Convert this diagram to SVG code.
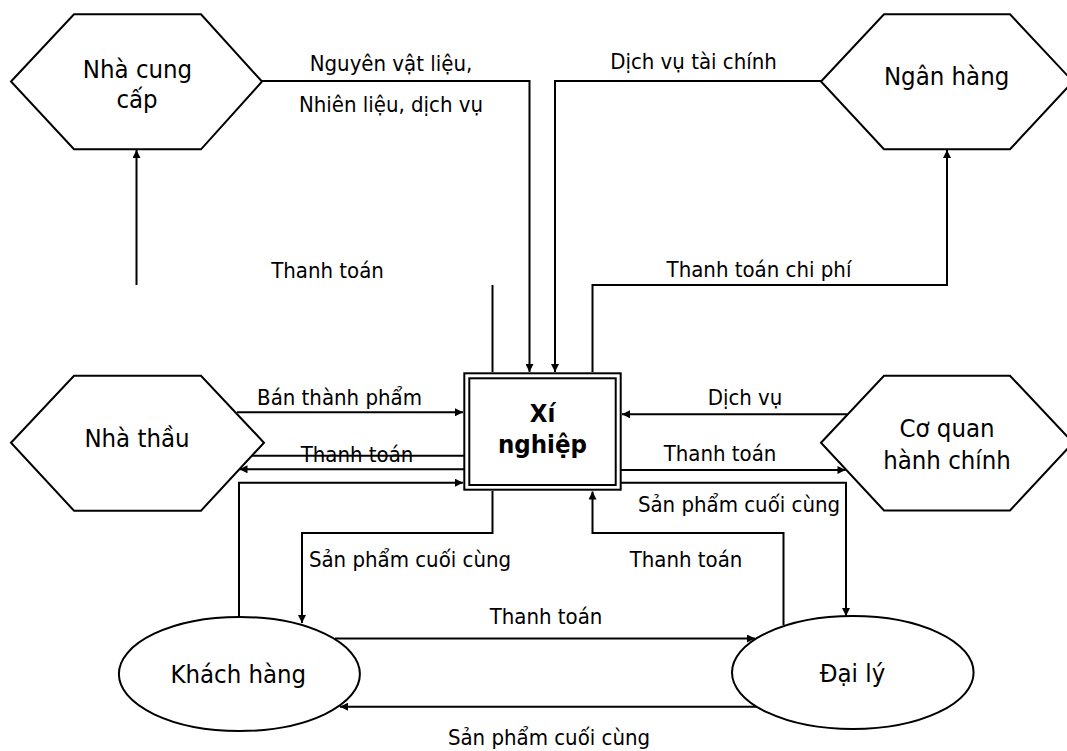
<svg xmlns="http://www.w3.org/2000/svg" width="1067" height="751" viewBox="0 0 1067 751">
<style>
.shape{fill:#fff;stroke:#000;stroke-width:2}
.conn{fill:none;stroke:#000;stroke-width:2}
.node{font-family:"DejaVu Sans Condensed","DejaVu Sans",sans-serif;font-stretch:condensed;font-size:25.5px;fill:#000;text-anchor:middle}
.bold{font-weight:bold}
.lbl{font-family:"DejaVu Sans Condensed","DejaVu Sans",sans-serif;font-stretch:condensed;font-size:22px;fill:#000;text-anchor:middle}
</style>
<defs>
<marker id="arr" viewBox="0 0 10 10" refX="10" refY="5" markerWidth="10" markerHeight="8" markerUnits="userSpaceOnUse" orient="auto">
<path d="M0,0 L10,5 L0,10 z" fill="#000"/>
</marker>
</defs>
<rect width="1067" height="751" fill="#fff"/>

<g id="connectors">
<path class="conn" d="M262,81 H529.5 V372" marker-end="url(#arr)"/>
<path class="conn" d="M821,81 H555 V372" marker-end="url(#arr)"/>
<path class="conn" d="M492.5,372 V285"/>
<path class="conn" d="M136.5,285 V150" marker-end="url(#arr)"/>
<path class="conn" d="M592.5,372 V285 H947 V150" marker-end="url(#arr)"/>
<path class="conn" d="M237,412.3 H463" marker-end="url(#arr)"/>
<path class="conn" d="M252,455.7 H466"/>
<path class="conn" d="M466,469.3 H239.5" marker-end="url(#arr)"/>
<path class="conn" d="M239,617 V482.7 H463" marker-end="url(#arr)"/>
<path class="conn" d="M847,414.3 H622" marker-end="url(#arr)"/>
<path class="conn" d="M620,470 H845.5" marker-end="url(#arr)"/>
<path class="conn" d="M621,482.7 H846 V616" marker-end="url(#arr)"/>
<path class="conn" d="M492.5,491 V533 H302 V623" marker-end="url(#arr)"/>
<path class="conn" d="M783.5,625 V533 H592.5 V491.5" marker-end="url(#arr)"/>
<path class="conn" d="M335,638.5 H755" marker-end="url(#arr)"/>
<path class="conn" d="M757,706.7 H340" marker-end="url(#arr)"/>
</g>

<g id="labels">
<text class="lbl" x="391" y="71">Nguyên vật liệu,</text>
<text class="lbl" x="391" y="111.7">Nhiên liệu, dịch vụ</text>
<text class="lbl" x="327.5" y="277.7">Thanh toán</text>
<text class="lbl" x="693.5" y="69">Dịch vụ tài chính</text>
<text class="lbl" x="759" y="277.3">Thanh toán chi phí</text>
<text class="lbl" x="339.5" y="405">Bán thành phẩm</text>
<text class="lbl" x="357" y="461.5">Thanh toán</text>
<text class="lbl" x="745" y="405">Dịch vụ</text>
<text class="lbl" x="720" y="461">Thanh toán</text>
<text class="lbl" x="739" y="511.7">Sản phẩm cuối cùng</text>
<text class="lbl" x="410" y="567.3">Sản phẩm cuối cùng</text>
<text class="lbl" x="686" y="567.3">Thanh toán</text>
<text class="lbl" x="546" y="624.3">Thanh toán</text>
<text class="lbl" x="549" y="745">Sản phẩm cuối cùng</text>
</g>

<g id="nha-cung-cap">
<polygon class="shape" points="11,81.5 74,14.3 201,14.3 262,81.5 201,149.3 74,149.3"/>
<text class="node" x="137.5" y="78.3">Nhà cung</text>
<text class="node" x="137" y="108.3">cấp</text>
</g>

<g id="ngan-hang">
<polygon class="shape" points="821,81.5 884,14.3 1010,14.3 1073,81.5 1010,149.3 884,149.3"/>
<text class="node" x="946.6" y="85">Ngân hàng</text>
</g>

<g id="nha-thau">
<polygon class="shape" points="11,442.7 74,375.7 201,375.7 264,442.7 201,510.7 74,510.7"/>
<text class="node" x="137" y="446.5">Nhà thầu</text>
</g>

<g id="co-quan-hanh-chinh">
<polygon class="shape" points="821,442.7 884,375.7 1010,375.7 1073,442.7 1010,510.5 884,510.5"/>
<text class="node" x="947" y="436.7">Cơ quan</text>
<text class="node" x="947" y="469.3">hành chính</text>
</g>

<g id="xi-nghiep">
<rect x="464.3" y="373.3" width="156.4" height="116.4" fill="#fff" stroke="#000" stroke-width="2"/>
<rect x="469.3" y="378.3" width="146.4" height="106.7" fill="none" stroke="#000" stroke-width="2"/>
<text class="node bold" x="542.5" y="421.7">Xí</text>
<text class="node bold" x="542.5" y="453.3">nghiệp</text>
</g>

<g id="khach-hang">
<ellipse class="shape" cx="239.4" cy="674" rx="120.5" ry="57"/>
<text class="node" x="238.3" y="683.3">Khách hàng</text>
</g>

<g id="dai-ly">
<ellipse class="shape" cx="852.8" cy="672.5" rx="120.8" ry="56.5"/>
<text class="node" x="852.5" y="681.7">Đại lý</text>
</g>
</svg>
